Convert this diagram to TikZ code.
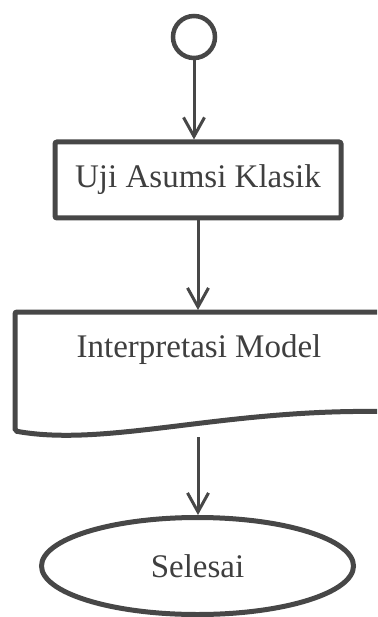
\documentclass[tikz,border=0pt]{standalone}
\usepackage{fontspec}
\setmainfont{Liberation Serif}
\usetikzlibrary{arrows.meta,shapes.geometric}
\definecolor{linegray}{HTML}{474747}
\definecolor{textgray}{HTML}{3F3F3F}
\begin{document}
\begin{tikzpicture}[x=1pt,y=-1pt]
  \tikzset{block/.style = {draw=linegray,line width=5pt,rounded corners=2pt,minimum width=286pt,minimum height=76pt,text=textgray,font=\fontsize{33}{38}\selectfont}}
  \tikzset{startnode/.style = {circle,draw=linegray,line width=4.5pt,minimum size=42pt,inner sep=0pt}}
  \tikzset{endnode/.style = {ellipse,draw=linegray,line width=5pt,minimum width=312pt,minimum height=97pt,inner sep=0pt,text=textgray,font=\fontsize{33}{38}\selectfont}}
  \tikzset{flow/.style = {draw=linegray,line width=3pt,-{Straight Barb[length=19pt,width=21pt]}}}

\useasboundingbox (0,0) rectangle (377,617);
\clip (0,0) rectangle (377,617);

\node[startnode] (start) at (194,37) {};
\node[block] (uji) at (198,180) {Uji Asumsi Klasik};
\node[text=textgray,font=\fontsize{33}{38}\selectfont] (interp) at (199,350) {Interpretasi Model};
\node[endnode] (selesai) at (197.5,566) {Selesai};

% dokumen shape
\draw[draw=linegray,line width=5pt,rounded corners=2pt] (400,312) -- (15,312) -- (15,431)
      [rounded corners=0pt] .. controls (110,448) and (230,406) .. (400,412);
\coordinate (interpbot) at (198,437);

    \path (start.south) edge[flow] (start.south |- uji.north);
    \path (uji.south) edge[flow] (uji.south |- 0,310);
    \path (interpbot) edge[flow] (interpbot |- selesai.north);

\end{tikzpicture}
\end{document}
